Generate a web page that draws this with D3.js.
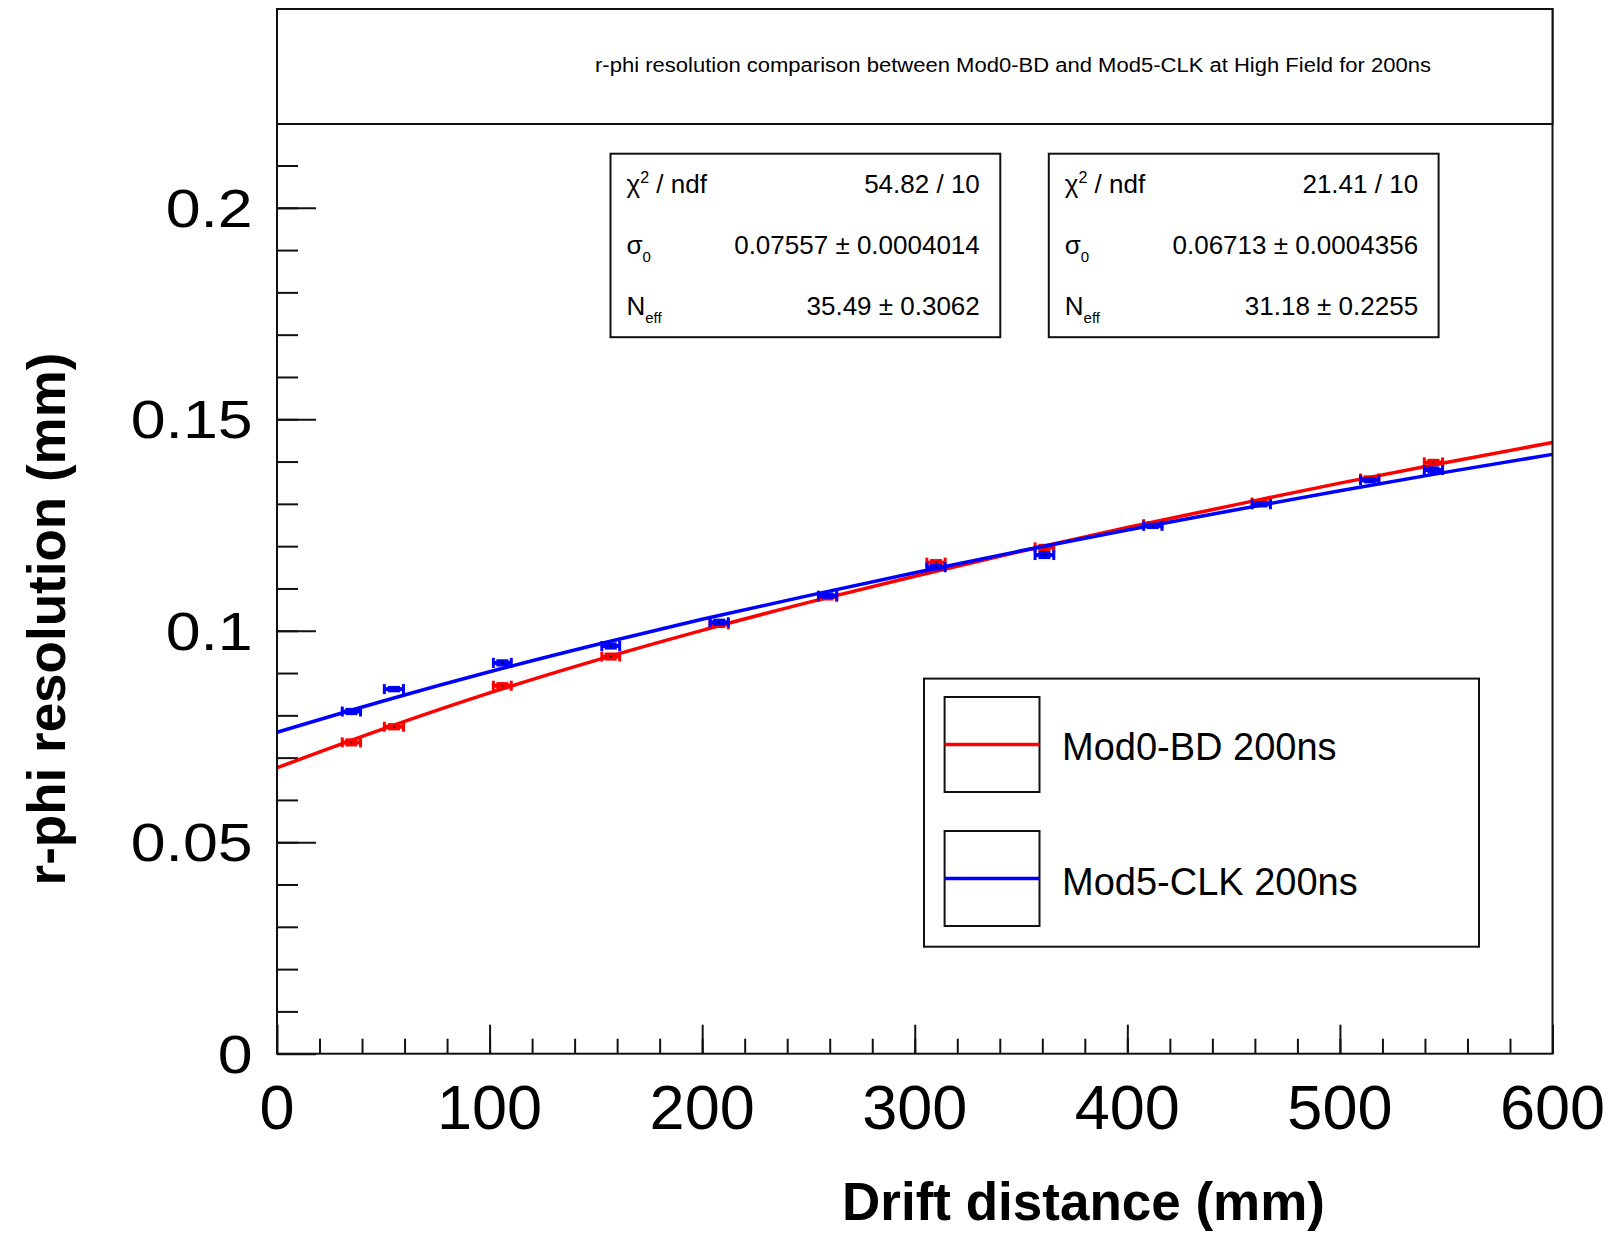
<!DOCTYPE html>
<html>
<head>
<meta charset="utf-8">
<script src="https://cdn.jsdelivr.net/npm/d3@7"></script>
<style>
  body { margin: 0; background: #fff; }
  text { font-family: "Liberation Sans", Arial, Helvetica, sans-serif; }
</style>
</head>
<body>
<div id="chart"></div>
<script>
// measured points (drift distance in mm, resolution in mm)
var driftX  = [35, 55, 106, 157, 208, 259, 310, 361, 412, 463, 514, 544];
var mod0Res = [0.0736, 0.0773, 0.0870, 0.0939, 0.1015, 0.1080, 0.1161, 0.1197, 0.1252, 0.1303, 0.1360, 0.1398];
var mod5Res = [0.0809, 0.0862, 0.0924, 0.0964, 0.1020, 0.1083, 0.1150, 0.1179, 0.1248, 0.1299, 0.1356, 0.1380];
var errX    = [4.3, 4.5, 4.2, 4.2, 4.3, 4.3, 4.3, 4.4, 4.3, 4.3, 4.3, 4.3];
var mod0ErrY = [0.0006, 0.0005, 0.0005, 0.0006, 0.0005, 0.0005, 0.0005, 0.0005, 0.0004, 0.0004, 0.0004, 0.0005];
var mod5ErrY = [0.0005, 0.0004, 0.0005, 0.0005, 0.0005, 0.0004, 0.0004, 0.0006, 0.0004, 0.0004, 0.0004, 0.0005];

// fit curves every 50 mm
var fitX    = [0, 50, 100, 150, 200, 250, 300, 350, 400, 450, 500, 550, 600];
var mod0Fit = [0.0676, 0.0768, 0.0853, 0.0930, 0.1001, 0.1067, 0.1129, 0.1188, 0.1244, 0.1297, 0.1349, 0.1398, 0.1445];
var mod5Fit = [0.0760, 0.0834, 0.0903, 0.0967, 0.1027, 0.1083, 0.1137, 0.1189, 0.1238, 0.1285, 0.1331, 0.1375, 0.1417];

var xTickLabels = ["0", "100", "200", "300", "400", "500", "600"];
var yTickLabels = ["0", "0.05", "0.1", "0.15", "0.2"];

var seriesNames = ["Mod0-BD 200ns", "Mod5-CLK 200ns"];
var seriesColors = ["#ff0000", "#0000ff"];

// stat boxes: left one belongs to Mod5-CLK, right one to Mod0-BD
var statLeft  = ["54.82 / 10", "0.07557 \u00b1 0.0004014", "35.49 \u00b1 0.3062"];
var statRight = ["21.41 / 10", "0.06713 \u00b1 0.0004356", "31.18 \u00b1 0.2255"];

var titleText = "r-phi resolution comparison between Mod0-BD and Mod5-CLK at High Field for 200ns";

var W = 1617, H = 1233;
var frame = {left: 277, right: 1552.5, top: 9, bottom: 1053.7};

var svg = d3.select("#chart").append("svg")
    .attr("width", W)
    .attr("height", H)
    .style("background", "#fff");

var x = d3.scaleLinear().domain([0, 600]).range([frame.left, frame.right]);
var y = d3.scaleLinear().domain([0, 0.247]).range([frame.bottom, frame.top]);

// ticks (ROOT style: inside the frame)
var yMajor = svg.append("g")
    .attr("transform", "translate(" + frame.left + ",0)")
    .call(d3.axisRight(y).tickValues(d3.range(0, 0.2001, 0.05)).tickSize(39).tickFormat(""));
var yMinor = svg.append("g")
    .attr("transform", "translate(" + frame.left + ",0)")
    .call(d3.axisRight(y).tickValues(d3.range(0.01, 0.245, 0.01)).tickSize(21).tickFormat(""));
var xMajor = svg.append("g")
    .attr("transform", "translate(0," + frame.bottom + ")")
    .call(d3.axisTop(x).tickValues(d3.range(0, 601, 100)).tickSize(29).tickFormat(""));
var xMinor = svg.append("g")
    .attr("transform", "translate(0," + frame.bottom + ")")
    .call(d3.axisTop(x).tickValues(d3.range(20, 600, 20)).tickSize(15).tickFormat(""));

[yMajor, yMinor, xMajor, xMinor].forEach(function(g) {
  g.select(".domain").remove();
  g.selectAll("line").attr("stroke", "#111").attr("stroke-width", 2);
});

// tick labels
svg.append("g").selectAll("text")
    .data(yTickLabels)
  .enter().append("text")
    .attr("transform", function(d) { return "translate(252.7," + (y(+d) + 19) + ") scale(1.16,1)"; })
    .attr("text-anchor", "end")
    .style("font-size", "54px")
    .attr("fill", "#000")
    .text(function(d) { return d; });

svg.append("g").selectAll("text")
    .data(xTickLabels)
  .enter().append("text")
    .attr("x", function(d) { return x(+d); })
    .attr("y", 1129)
    .attr("text-anchor", "middle")
    .style("font-size", "63px")
    .attr("fill", "#000")
    .text(function(d) { return d; });

// axis titles
svg.append("text")
    .attr("x", 1325)
    .attr("y", 1220)
    .attr("text-anchor", "end")
    .style("font-size", "53px")
    .style("font-weight", "bold")
    .text("Drift distance (mm)");

svg.append("text")
    .attr("transform", "translate(65,619) rotate(-90)")
    .attr("text-anchor", "middle")
    .style("font-size", "53px")
    .style("font-weight", "bold")
    .text("r-phi resolution (mm)");

// fit curves + points
var line = d3.line()
    .x(function(d) { return x(d[0]); })
    .y(function(d) { return y(d[1]); })
    .curve(d3.curveMonotoneX);

function drawSeries(fitVals, res, errY, color) {
  svg.append("path")
      .datum(fitX.map(function(v, i) { return [v, fitVals[i]]; }))
      .attr("fill", "none")
      .attr("stroke", color)
      .attr("stroke-width", 3.5)
      .attr("d", line);

  var pts = driftX.map(function(v, i) { return {x: v, y: res[i], ex: errX[i], ey: errY[i]}; });
  var g = svg.append("g").selectAll("g")
      .data(pts)
    .enter().append("g")
      .attr("stroke", color);

  g.append("line")
      .attr("x1", function(d) { return x(d.x - d.ex); })
      .attr("x2", function(d) { return x(d.x + d.ex); })
      .attr("y1", function(d) { return y(d.y); })
      .attr("y2", function(d) { return y(d.y); })
      .attr("stroke-width", 4);
  [-1, 1].forEach(function(s) {
    // caps on the x error bar
    g.append("line")
        .attr("x1", function(d) { return x(d.x + s * d.ex); })
        .attr("x2", function(d) { return x(d.x + s * d.ex); })
        .attr("y1", function(d) { return y(d.y) - 5; })
        .attr("y2", function(d) { return y(d.y) + 5; })
        .attr("stroke-width", 3);
    // caps on the y error bar
    g.append("line")
        .attr("x1", function(d) { return x(d.x) - 6; })
        .attr("x2", function(d) { return x(d.x) + 6; })
        .attr("y1", function(d) { return y(d.y + s * d.ey); })
        .attr("y2", function(d) { return y(d.y + s * d.ey); })
        .attr("stroke-width", 3);
  });
  g.append("line")
      .attr("x1", function(d) { return x(d.x); })
      .attr("x2", function(d) { return x(d.x); })
      .attr("y1", function(d) { return y(d.y - d.ey); })
      .attr("y2", function(d) { return y(d.y + d.ey); })
      .attr("stroke-width", 3);
  g.append("rect")
      .attr("x", function(d) { return x(d.x) - 0.75; })
      .attr("y", function(d) { return y(d.y) - 0.75; })
      .attr("width", 1.5)
      .attr("height", 1.5)
      .attr("stroke", "none")
      .attr("fill", "#000");
}

drawSeries(mod0Fit, mod0Res, mod0ErrY, seriesColors[0]);
drawSeries(mod5Fit, mod5Res, mod5ErrY, seriesColors[1]);

// frame
svg.append("rect")
    .attr("x", frame.left)
    .attr("y", frame.top)
    .attr("width", frame.right - frame.left)
    .attr("height", frame.bottom - frame.top)
    .attr("fill", "none")
    .attr("stroke", "#111")
    .attr("stroke-width", 2);

// title pave
svg.append("rect")
    .attr("x", frame.left)
    .attr("y", frame.top)
    .attr("width", frame.right - frame.left)
    .attr("height", 124 - frame.top)
    .attr("fill", "#fff")
    .attr("stroke", "#111")
    .attr("stroke-width", 2);
svg.append("text")
    .attr("x", 595)
    .attr("y", 72)
    .attr("textLength", 836)
    .attr("lengthAdjust", "spacingAndGlyphs")
    .style("font-size", "20px")
    .text(titleText);

// stat boxes
function statBox(x0, x1, vals) {
  var top = 153.7, bottom = 337.2;
  svg.append("rect")
      .attr("x", x0).attr("y", top)
      .attr("width", x1 - x0).attr("height", bottom - top)
      .attr("fill", "#fff")
      .attr("stroke", "#111")
      .attr("stroke-width", 2);
  var rows = [193, 253.5, 314.5];

  var t0 = svg.append("text").attr("x", x0 + 16).attr("y", rows[0]).style("font-size", "26px");
  t0.append("tspan").text("\u03c7");
  t0.append("tspan").attr("dy", -10).style("font-size", "16px").text("2");
  t0.append("tspan").attr("dy", 10).text(" / ndf");

  var t1 = svg.append("text").attr("x", x0 + 16).attr("y", rows[1]).style("font-size", "26px");
  t1.append("tspan").text("\u03c3");
  t1.append("tspan").attr("dy", 8).style("font-size", "15px").text("0");

  var t2 = svg.append("text").attr("x", x0 + 16).attr("y", rows[2]).style("font-size", "26px");
  t2.append("tspan").text("N");
  t2.append("tspan").attr("dy", 8).style("font-size", "15px").text("eff");

  svg.append("g").selectAll("text")
      .data(vals)
    .enter().append("text")
      .attr("x", x1 - 20.5)
      .attr("y", function(d, i) { return rows[i]; })
      .attr("text-anchor", "end")
      .style("font-size", "26px")
      .text(function(d) { return d; });
}
statBox(610.5, 1000.3, statLeft);
statBox(1048.8, 1438.6, statRight);

// legend
var legend = svg.append("g");
legend.append("rect")
    .attr("x", 924).attr("y", 678.6)
    .attr("width", 1479 - 924).attr("height", 946.7 - 678.6)
    .attr("fill", "#fff")
    .attr("stroke", "#111")
    .attr("stroke-width", 2);

var entryTop = [697, 831];
var textBase = [760, 895];
seriesNames.forEach(function(name, i) {
  legend.append("rect")
      .attr("x", 944.6).attr("y", entryTop[i])
      .attr("width", 1039.5 - 944.6).attr("height", 95)
      .attr("fill", "none")
      .attr("stroke", "#111")
      .attr("stroke-width", 2);
  legend.append("line")
      .attr("x1", 944.6).attr("x2", 1039.5)
      .attr("y1", entryTop[i] + 47.5).attr("y2", entryTop[i] + 47.5)
      .attr("stroke", seriesColors[i])
      .attr("stroke-width", 3.5);
  legend.append("text")
      .attr("x", 1062)
      .attr("y", textBase[i])
      .style("font-size", "38px")
      .text(name);
});
</script>
</body>
</html>
